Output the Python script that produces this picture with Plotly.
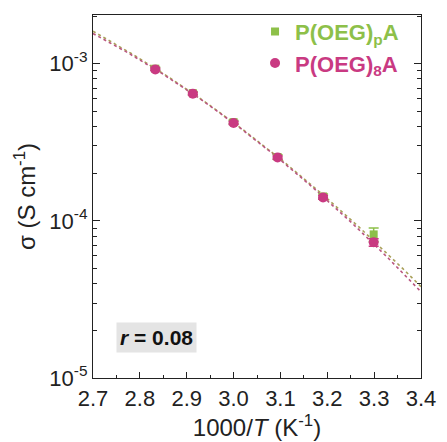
import numpy as np
import plotly.graph_objects as go

# 1000/T (K^-1)
inv_T = [2.833, 2.913, 3.000, 3.094, 3.191, 3.299]

# ionic conductivity (S cm^-1)
sigma_p = [9.3e-4, 6.5e-4, 4.25e-4, 2.55e-4, 1.43e-4, 8.2e-5]
sigma_p_err = [2.0e-5, 1.5e-5, 1.0e-5, 8.0e-6, 5.0e-6, 8.0e-6]
sigma_8 = [9.2e-4, 6.45e-4, 4.2e-4, 2.53e-4, 1.41e-4, 7.3e-5]
sigma_8_err = [1.5e-5, 1.2e-5, 9.0e-6, 6.0e-6, 4.0e-6, 4.0e-6]

x_ticks = [2.7, 2.8, 2.9, 3.0, 3.1, 3.2, 3.3, 3.4]
x_ticktext = ["2.7", "2.8", "2.9", "3.0", "3.1", "3.2", "3.3", "3.4"]
y_ticks = [1e-5, 1e-4, 1e-3]
y_ticktext = ["10<sup>-5</sup>", "10<sup>-4</sup>", "10<sup>-3</sup>"]

GREEN = "#8dc049"
PINK = "#c93a82"
FONT = "Liberation Sans, Arial, sans-serif"
INK = "#222"


def fit_curve(x, y, err):
    """Error-weighted quadratic fit of log10(sigma) vs 1000/T over the axis span."""
    y = np.asarray(y)
    w = y / np.asarray(err)  # 1 / relative error
    coef = np.polyfit(np.asarray(x), np.log10(y), 2, w=w)
    xs = np.linspace(x_ticks[0], x_ticks[-1], 200)
    return xs, 10 ** np.polyval(coef, xs)


fig = go.Figure()

xs, ys = fit_curve(inv_T, sigma_p, sigma_p_err)
fig.add_trace(go.Scatter(x=xs, y=ys, mode="lines", showlegend=False,
                         line=dict(color="#a9a05a", width=1.6, dash="dot"),
                         hoverinfo="skip"))
xs, ys = fit_curve(inv_T, sigma_8, sigma_8_err)
fig.add_trace(go.Scatter(x=xs, y=ys, mode="lines", showlegend=False,
                         line=dict(color="#b9557f", width=1.6, dash="dot"),
                         hoverinfo="skip"))

fig.add_trace(go.Scatter(
    x=inv_T, y=sigma_p, mode="markers",
    name=f'<span style="color:{GREEN}"><b>P(OEG)<sub>p</sub>A</b></span>',
    marker=dict(symbol="square", size=8, color=GREEN),
    error_y=dict(type="data", array=sigma_p_err, color=GREEN, thickness=1.5, width=5),
))
fig.add_trace(go.Scatter(
    x=inv_T, y=sigma_8, mode="markers",
    name=f'<span style="color:{PINK}"><b>P(OEG)<sub>8</sub>A</b></span>',
    marker=dict(symbol="circle", size=10, color=PINK),
    error_y=dict(type="data", array=sigma_8_err, color=PINK, thickness=1.5, width=5),
))

fig.add_annotation(
    x=0.193, y=0.111, xref="paper", yref="paper", xanchor="center", yanchor="middle",
    text="<b><i>r</i> = 0.08</b>", showarrow=False,
    font=dict(family=FONT, size=21, color="#111"),
    bgcolor="#e4e4e4", borderpad=3,
)

fig.update_layout(
    width=447, height=442,
    margin=dict(l=93, r=17, t=11, b=63),
    paper_bgcolor="white", plot_bgcolor="white",
    font=dict(family=FONT, size=20, color=INK),
    legend=dict(x=0.494, y=1.012, xanchor="left", yanchor="top",
                bgcolor="rgba(0,0,0,0)", font=dict(family=FONT, size=22),
                itemwidth=30, tracegroupgap=0),
)

fig.update_xaxes(
    range=[2.7, 3.4], tickvals=x_ticks, ticktext=x_ticktext,
    ticks="inside", ticklen=6, tickwidth=1.2, tickcolor=INK,
    showline=True, linecolor=INK, linewidth=1.3, mirror=True,
    showgrid=False, zeroline=False,
    tickfont=dict(family=FONT, size=22, color=INK),
    minor=dict(tickvals=[2.75, 2.85, 2.95, 3.05, 3.15, 3.25, 3.35],
               ticks="inside", ticklen=3, tickcolor=INK, showgrid=False),
    title=dict(text="1000/<i>T</i> (K<sup>-1</sup>)", standoff=4,
               font=dict(family=FONT, size=24, color=INK)),
)

fig.update_yaxes(
    type="log", range=[-5, -2.69], tickvals=y_ticks, ticktext=y_ticktext,
    ticks="inside", ticklen=7, tickwidth=1.2, tickcolor=INK,
    showline=True, linecolor=INK, linewidth=1.3, mirror="ticks",
    showgrid=False, zeroline=False,
    tickfont=dict(family=FONT, size=22, color=INK),
    minor=dict(ticks="inside", ticklen=4, tickcolor=INK, showgrid=False,
               dtick="D1"),
    title=dict(text="σ (S cm<sup>-1</sup>)", standoff=6,
               font=dict(family=FONT, size=24, color=INK)),
)

fig.write_html("out.html")
